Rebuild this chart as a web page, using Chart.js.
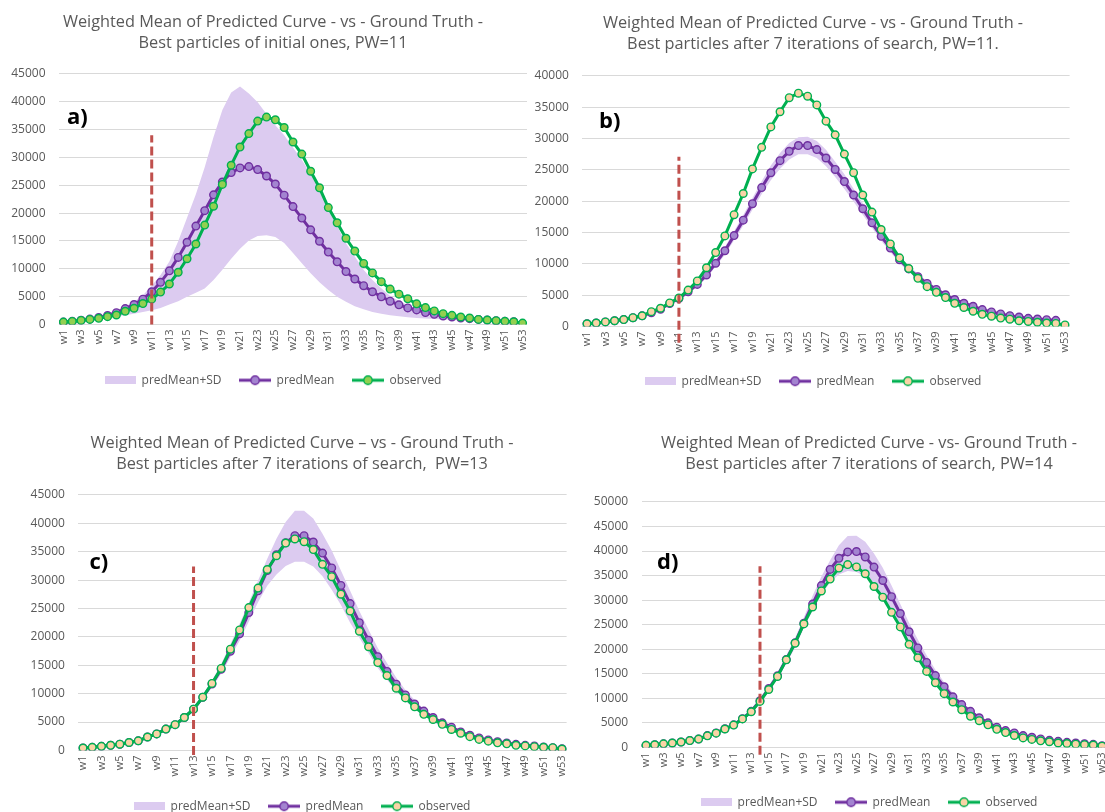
<!DOCTYPE html>
<html>
<head>
<meta charset="utf-8">
<script src="https://cdn.jsdelivr.net/npm/chart.js@4.4.1/dist/chart.umd.min.js"></script>
<style>
  html, body { margin: 0; padding: 0; background: #fff; overflow: hidden; }
  body { width: 1105px; height: 812px; position: relative; }
  canvas { position: absolute; }
</style>
</head>
<body>
<canvas id="chartA"></canvas>
<canvas id="chartB"></canvas>
<canvas id="chartC"></canvas>
<canvas id="chartD"></canvas>
<script>
const weeks = Array.from({ length: 53 }, (_, i) => 'w' + (i + 1));

// ground truth, shared by all four panels
const observed = [420, 540, 720, 900, 1090, 1390, 1690, 2360, 2900, 3750,
    4540, 5800, 7260, 9370, 11800, 14450, 17840, 21230, 25160, 28600,
    31870, 34290, 36530, 37250, 36770, 35380, 32780, 30600, 27520, 24550,
    20990, 18260, 15480, 13180, 10950, 9250, 7680, 6350, 5440, 4600,
    3690, 3020, 2420, 1935, 1630, 1330, 1150, 900, 790, 665,
    545, 480, 240];

// a) initial particles, PW=11
const predMeanA = [420, 550, 740, 960, 1250, 1600, 2100, 2840, 3570, 4540,
    5870, 7560, 9620, 12040, 14760, 17660, 20440, 23280, 25580, 27280,
    28120, 28360, 27820, 26670, 25220, 23220, 21170, 19110, 16990, 14940,
    13000, 11250, 9500, 8160, 6950, 5870, 4960, 4170, 3510, 2960,
    2600, 2120, 1810, 1510, 1330, 1150, 1030, 900, 780, 660,
    550, 470, null];
const sdUpperA = [520, 680, 900, 1150, 1480, 1950, 2540, 3200, 4050, 5260,
    6950, 8890, 11310, 14940, 19170, 23400, 28240, 33690, 38530, 41670,
    42760, 41500, 39900, 37800, 35800, 34000, 31800, 29600, 27000, 24200,
    21000, 17700, 14600, 12200, 9800, 8000, 6500, 5100, 4200, 3450,
    2850, 2350, 2000, 1700, 1450, 1270, 1090, 950, 820, 700,
    600, 520, 450];
const sdLowerA = [400, 500, 640, 800, 980, 1180, 1400, 1650, 1935, 2240,
    2540, 2960, 3570, 4170, 4960, 5690, 6470, 7980, 9800, 11790,
    13610, 15060, 15900, 16030, 15720, 14640, 12820, 11000, 9190, 7560,
    6170, 4960, 4050, 3270, 2720, 2240, 1935, 1630, 1450, 1270,
    1150, 1050, 960, 880, 810, 750, 690, 640, 590, 540,
    500, 460, 420];

// b) after 7 iterations, PW=11
const predMeanB = [420, 540, 720, 900, 1100, 1390, 1710, 2180, 2740, 3650,
    4460, 5530, 6710, 8210, 10090, 12080, 14500, 16970, 19600, 22170,
    24540, 26470, 27970, 28890, 28890, 28240, 26900, 25070, 23140, 20990,
    18790, 16540, 14390, 12510, 10630, 9180, 7950, 6870, 5910, 5050,
    4300, 3700, 3220, 2680, 2310, 1990, 1720, 1500, 1290, 1180,
    1070, 970, null];
const sdUpperB = [440, 560, 740, 930, 1150, 1450, 1800, 2300, 2850, 3800,
    4650, 5800, 7050, 8650, 10600, 12700, 15200, 17800, 20500, 23200,
    25700, 27700, 29300, 30200, 30300, 29600, 28200, 26300, 24300, 22000,
    19700, 17300, 15100, 13100, 11200, 9700, 8400, 7250, 6250, 5350,
    4550, 3920, 3400, 2850, 2450, 2110, 1830, 1600, 1380, 1260,
    1150, 1040, null];
const sdLowerB = [400, 520, 700, 870, 1050, 1330, 1620, 2050, 2630, 3500,
    4280, 5250, 6350, 7750, 9550, 11450, 13750, 16100, 18650, 21100,
    23350, 25200, 26650, 27500, 27500, 26900, 25600, 23850, 21950, 19950,
    17850, 15750, 13700, 11900, 10100, 8700, 7500, 6500, 5570, 4750,
    4050, 3480, 3040, 2510, 2170, 1870, 1610, 1400, 1200, 1100,
    990, 900, null];

// c) after 7 iterations, PW=13
const predMeanC = [420, 540, 720, 900, 1090, 1390, 1690, 2360, 2900, 3750,
    4540, 5800, 7260, 9350, 11700, 14300, 17470, 20550, 24280, 28120,
    31680, 34460, 36590, 37830, 37830, 36710, 34760, 32150, 29070, 25870,
    22500, 19420, 16520, 13910, 11660, 9770, 8170, 6930, 5800, 4860,
    4090, 3260, 2660, 2190, 1840, 1540, 1300, 1070, 890, 770,
    590, 480, 300];
const sdUpperC = [430, 560, 740, 930, 1130, 1440, 1760, 2450, 3020, 3900,
    4750, 6050, 7600, 9800, 12300, 15200, 18700, 22300, 26050, 29900,
    33750, 37300, 40260, 42220, 42220, 40850, 38190, 35230, 31680, 28120,
    24570, 21320, 18060, 15390, 12850, 10660, 8880, 7280, 6040, 5030,
    4250, 3450, 2820, 2330, 1960, 1650, 1400, 1150, 960, 820,
    640, 520, 330];
const sdLowerC = [410, 520, 700, 870, 1050, 1340, 1620, 2270, 2790, 3600,
    4350, 5550, 6950, 8900, 11100, 13500, 16400, 19300, 22700, 26100,
    29000, 31000, 32500, 33250, 33250, 32400, 30700, 28300, 25600, 22500,
    19840, 17170, 14510, 12430, 10480, 8700, 7280, 6040, 5000, 4150,
    3500, 2800, 2300, 1900, 1600, 1350, 1150, 950, 800, 680,
    540, 440, 270];

// d) after 7 iterations, PW=14
const predMeanD = [420, 540, 720, 900, 1100, 1400, 1720, 2400, 2950, 3800,
    4600, 5850, 7350, 9500, 12000, 14600, 17900, 21300, 25300, 29190,
    32970, 36260, 38530, 39830, 39900, 38800, 36740, 34000, 30700, 27270,
    23560, 20260, 17310, 14630, 12360, 10300, 8720, 7350, 6040, 5010,
    4120, 3430, 2950, 2400, 2060, 1720, 1440, 1240, 1030, 890,
    760, 620, 350];
const sdUpperD = [440, 570, 760, 950, 1160, 1480, 1820, 2530, 3100, 4000,
    4850, 6150, 7700, 9950, 12550, 15300, 18700, 22300, 26440, 30900,
    34820, 38120, 41200, 43060, 43130, 41900, 39490, 36600, 32970, 29190,
    25410, 21980, 18750, 15800, 13250, 11060, 9270, 7760, 6460, 5430,
    4460, 3780, 3230, 2680, 2330, 1990, 1720, 1510, 1300, 1170,
    1030, 890, 400];
const sdLowerD = [400, 510, 690, 860, 1050, 1340, 1640, 2290, 2820, 3620,
    4380, 5580, 7000, 9100, 11500, 14000, 17100, 20300, 24380, 27820,
    31110, 33650, 35230, 35920, 35710, 34820, 32970, 30430, 27470, 24240,
    20950, 17990, 15250, 12840, 10780, 9070, 7690, 6520, 5490, 4600,
    3780, 3230, 2750, 2270, 1920, 1650, 1370, 1170, 1030, 890,
    760, 620, 300];

const pwWeek = [11, 11, 13, 14];
const cutTop = [34000, 27100, 32400, 36900];
const cutBottom = [0, -2600, -800, -1500];
const yMax = [45000, 40000, 45000, 50000];
const tags = ['a)', 'b)', 'c)', 'd)'];
const titles = [
    ['Weighted Mean of Predicted Curve - vs - Ground Truth -', 'Best particles of initial ones, PW=11'],
    ['Weighted Mean of Predicted Curve - vs - Ground Truth -', 'Best particles after 7 iterations of search, PW=11.'],
    ['Weighted Mean of Predicted Curve \u2013 vs - Ground Truth -', 'Best particles after 7 iterations of search,  PW=13'],
    ['Weighted Mean of Predicted Curve - vs- Ground Truth -', 'Best particles after 7 iterations of search, PW=14']
];
const series = [
    { mean: predMeanA, upper: sdUpperA, lower: sdLowerA },
    { mean: predMeanB, upper: sdUpperB, lower: sdLowerB },
    { mean: predMeanC, upper: sdUpperC, lower: sdLowerC },
    { mean: predMeanD, upper: sdUpperD, lower: sdLowerD }
];

// canvas placement and box sizes for each panel
const layouts = [
    { id: 'chartA', left: 0, top: 0, w: 546, h: 400, padL: 19, padR: 19, padB: 3.8, yW: 40, xH: 31.8, tTop: 11.4, tBot: 20.2, tagDx: 8, tagDy: 44, obsFill: '#92D050' },
    { id: 'chartB', left: 520, top: 0, w: 585, h: 400, padL: 36.4, padR: 35.4, padB: 2.8, yW: 26, xH: 30.8, tTop: 12.4, tBot: 21.2, tagDx: 16.6, tagDy: 46, obsFill: '#F9D4A6' },
    { id: 'chartC', left: 0, top: 400, w: 604, h: 425, padL: 37.4, padR: 37.4, padB: 2.8, yW: 41, xH: 31.8, tTop: 32.4, tBot: 20.2, tagDx: 11, tagDy: 68, obsFill: '#F9D4A6' },
    { id: 'chartD', left: 580, top: 400, w: 600, h: 425, padL: 51.6, padR: 73.6, padB: 6.8, yW: 10, xH: 30.8, tTop: 32.4, tBot: 27.2, tagDx: 15.4, tagDy: 61, obsFill: '#F9D4A6' }
];

const BAND = '#DCCBF0';
const MEAN_LINE = '#7030A0';
const MEAN_FILL = '#A384D0';
const OBS_LINE = '#00B050';
const CUT = '#C0504D';
const TEXT = '#595959';
const Y_FONT = "12px 'Open Sans', sans-serif";
const Y_GAP = 13.5;

Chart.defaults.font.family = "'Open Sans', sans-serif";
Chart.defaults.color = TEXT;

// y labels are mirrored (so they are not clipped to the narrow axis box)
// and pushed back left of the plot by their own width
const measure = document.createElement('canvas').getContext('2d');
measure.font = Y_FONT;

function bandIcon() {
    const c = document.createElement('canvas');
    c.width = 31; c.height = 8;
    const g = c.getContext('2d');
    g.fillStyle = BAND;
    g.fillRect(0, 0, 31, 8);
    return c;
}

function markerIcon(stroke, fill) {
    const c = document.createElement('canvas');
    c.width = 32; c.height = 12;
    const g = c.getContext('2d');
    g.strokeStyle = stroke;
    g.lineWidth = 3;
    g.beginPath(); g.moveTo(0, 6); g.lineTo(32, 6); g.stroke();
    g.beginPath(); g.arc(16, 6, 4.2, 0, Math.PI * 2);
    g.fillStyle = fill; g.fill();
    g.lineWidth = 1.4; g.stroke();
    return c;
}

const tagPlugin = {
    id: 'panelTag',
    afterDraw(chart, args, opts) {
        const { ctx, chartArea } = chart;
        ctx.save();
        ctx.font = "bold 22px 'Open Sans', sans-serif";
        ctx.fillStyle = '#000';
        ctx.textBaseline = 'middle';
        ctx.fillText(opts.text, chartArea.left + opts.dx, chartArea.top + opts.dy);
        ctx.restore();
    }
};

layouts.forEach((L, i) => {
    const el = document.getElementById(L.id);
    el.width = L.w; el.height = L.h;
    el.style.left = L.left + 'px';
    el.style.top = L.top + 'px';

    const s = series[i];
    const icons = [null, bandIcon(), markerIcon(MEAN_LINE, MEAN_FILL), markerIcon(OBS_LINE, L.obsFill)];
    const widest = measure.measureText(String(yMax[i])).width;

    new Chart(el, {
        type: 'line',
        data: {
            labels: weeks,
            datasets: [
                { label: '', data: s.lower, borderWidth: 0, pointRadius: 0, fill: false, order: 4 },
                { label: 'predMean+SD', data: s.upper, borderWidth: 0, pointRadius: 0, fill: '-1', backgroundColor: BAND, order: 3 },
                {
                    label: 'predMean', data: s.mean, borderColor: MEAN_LINE, borderWidth: 3,
                    pointRadius: 3.8, pointBorderWidth: 1.4, pointBackgroundColor: MEAN_FILL, pointBorderColor: MEAN_LINE, order: 2
                },
                {
                    label: 'observed', data: observed, borderColor: OBS_LINE, borderWidth: 3,
                    pointRadius: 3.8, pointBorderWidth: 1.4, pointBackgroundColor: L.obsFill, pointBorderColor: OBS_LINE, order: 1
                },
                {
                    label: '', xAxisID: 'xCut', clip: false,
                    data: [{ x: pwWeek[i], y: cutBottom[i] }, { x: pwWeek[i], y: cutTop[i] }],
                    borderColor: CUT, borderWidth: 3, borderDash: [9, 4], pointRadius: 0, order: 0
                }
            ]
        },
        options: {
            responsive: false,
            animation: false,
            events: [],
            layout: { padding: { left: L.padL, right: L.padR, top: 0, bottom: L.padB } },
            plugins: {
                tooltip: { enabled: false },
                title: {
                    display: true,
                    text: titles[i],
                    color: TEXT,
                    font: { size: 16.3, weight: 'normal', lineHeight: 1.3 },
                    padding: { top: L.tTop, bottom: L.tBot }
                },
                legend: {
                    position: 'bottom',
                    labels: {
                        color: TEXT,
                        font: { size: 12 },
                        usePointStyle: true,
                        pointStyleWidth: 31,
                        padding: 18,
                        filter: item => item.text !== '',
                        sort: (a, b) => a.datasetIndex - b.datasetIndex,
                        generateLabels: chart => Chart.defaults.plugins.legend.labels.generateLabels(chart)
                            .map(item => ({ ...item, pointStyle: icons[item.datasetIndex] || item.pointStyle }))
                    }
                },
                panelTag: { text: tags[i], dx: L.tagDx, dy: L.tagDy }
            },
            scales: {
                x: {
                    type: 'category',
                    offset: true,
                    grid: { display: false, drawTicks: false },
                    border: { display: false },
                    ticks: {
                        autoSkip: false, maxRotation: 90, minRotation: 90, padding: 5,
                        font: { size: 11 }, color: TEXT,
                        callback: (v, idx) => idx % 2 === 0 ? weeks[idx] : ''
                    },
                    afterFit: sc => { sc.height = L.xH; }
                },
                xCut: { type: 'linear', display: false, min: 0.5, max: 53.5 },
                y: {
                    min: 0, max: yMax[i],
                    ticks: {
                        stepSize: 5000, mirror: true, crossAlign: 'far', padding: -(Y_GAP + widest),
                        font: { size: 12 }, color: TEXT, callback: v => v
                    },
                    grid: { color: '#D9D9D9', drawTicks: false },
                    border: { display: false },
                    afterFit: sc => { sc.width = L.yW; }
                }
            }
        },
        plugins: [tagPlugin]
    });
});
</script>
</body>
</html>
